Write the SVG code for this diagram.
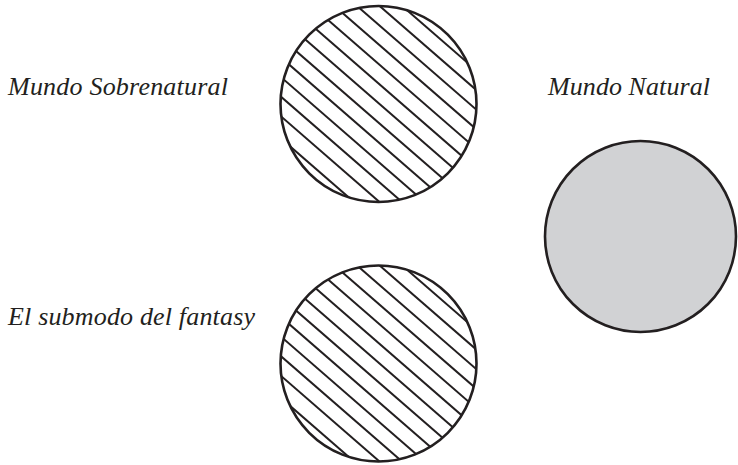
<svg xmlns="http://www.w3.org/2000/svg" width="738" height="465" viewBox="0 0 738 465">
<style>
.lbl{font-family:"Liberation Serif","Times New Roman",serif;font-style:italic;font-size:26px;fill:#231f20}
.ring{fill:none;stroke:#231f20;stroke-width:2.6}
.hatch line{stroke:#231f20;stroke-width:2}
</style>
<defs>
<clipPath id="cc"><circle cx="0" cy="0" r="98"/></clipPath>
<g id="hatch" class="hatch">
<line x1="-120" y1="-89.5" x2="120" y2="-89.5"/>
<line x1="-120" y1="-74.7" x2="120" y2="-74.7"/>
<line x1="-120" y1="-59.9" x2="120" y2="-59.9"/>
<line x1="-120" y1="-45.1" x2="120" y2="-45.1"/>
<line x1="-120" y1="-30.3" x2="120" y2="-30.3"/>
<line x1="-120" y1="-15.5" x2="120" y2="-15.5"/>
<line x1="-120" y1="-0.7" x2="120" y2="-0.7"/>
<line x1="-120" y1="14.1" x2="120" y2="14.1"/>
<line x1="-120" y1="28.9" x2="120" y2="28.9"/>
<line x1="-120" y1="43.7" x2="120" y2="43.7"/>
<line x1="-120" y1="58.5" x2="120" y2="58.5"/>
<line x1="-120" y1="73.3" x2="120" y2="73.3"/>
<line x1="-120" y1="90" x2="120" y2="90"/>
</g>
</defs>
<rect width="738" height="465" fill="#fff"/>
<g id="sobrenatural">
<g transform="translate(378.5,104) rotate(41)" clip-path="url(#cc)"><use href="#hatch"/></g>
<circle class="ring" cx="378.5" cy="104" r="98"/>
<text class="lbl" x="8" y="95" textLength="220">Mundo Sobrenatural</text>
</g>
<g id="fantasy">
<g transform="translate(378.5,363.5) rotate(41)" clip-path="url(#cc)"><use href="#hatch"/></g>
<circle class="ring" cx="378.5" cy="363.5" r="98"/>
<text class="lbl" x="8" y="325" textLength="247">El submodo del fantasy</text>
</g>
<g id="natural">
<circle cx="640.5" cy="236.5" r="95.5" fill="#d1d2d4" stroke="#231f20" stroke-width="2.6"/>
<text class="lbl" x="548" y="95" textLength="162">Mundo Natural</text>
</g>
<g id="connectors"/>
</svg>
